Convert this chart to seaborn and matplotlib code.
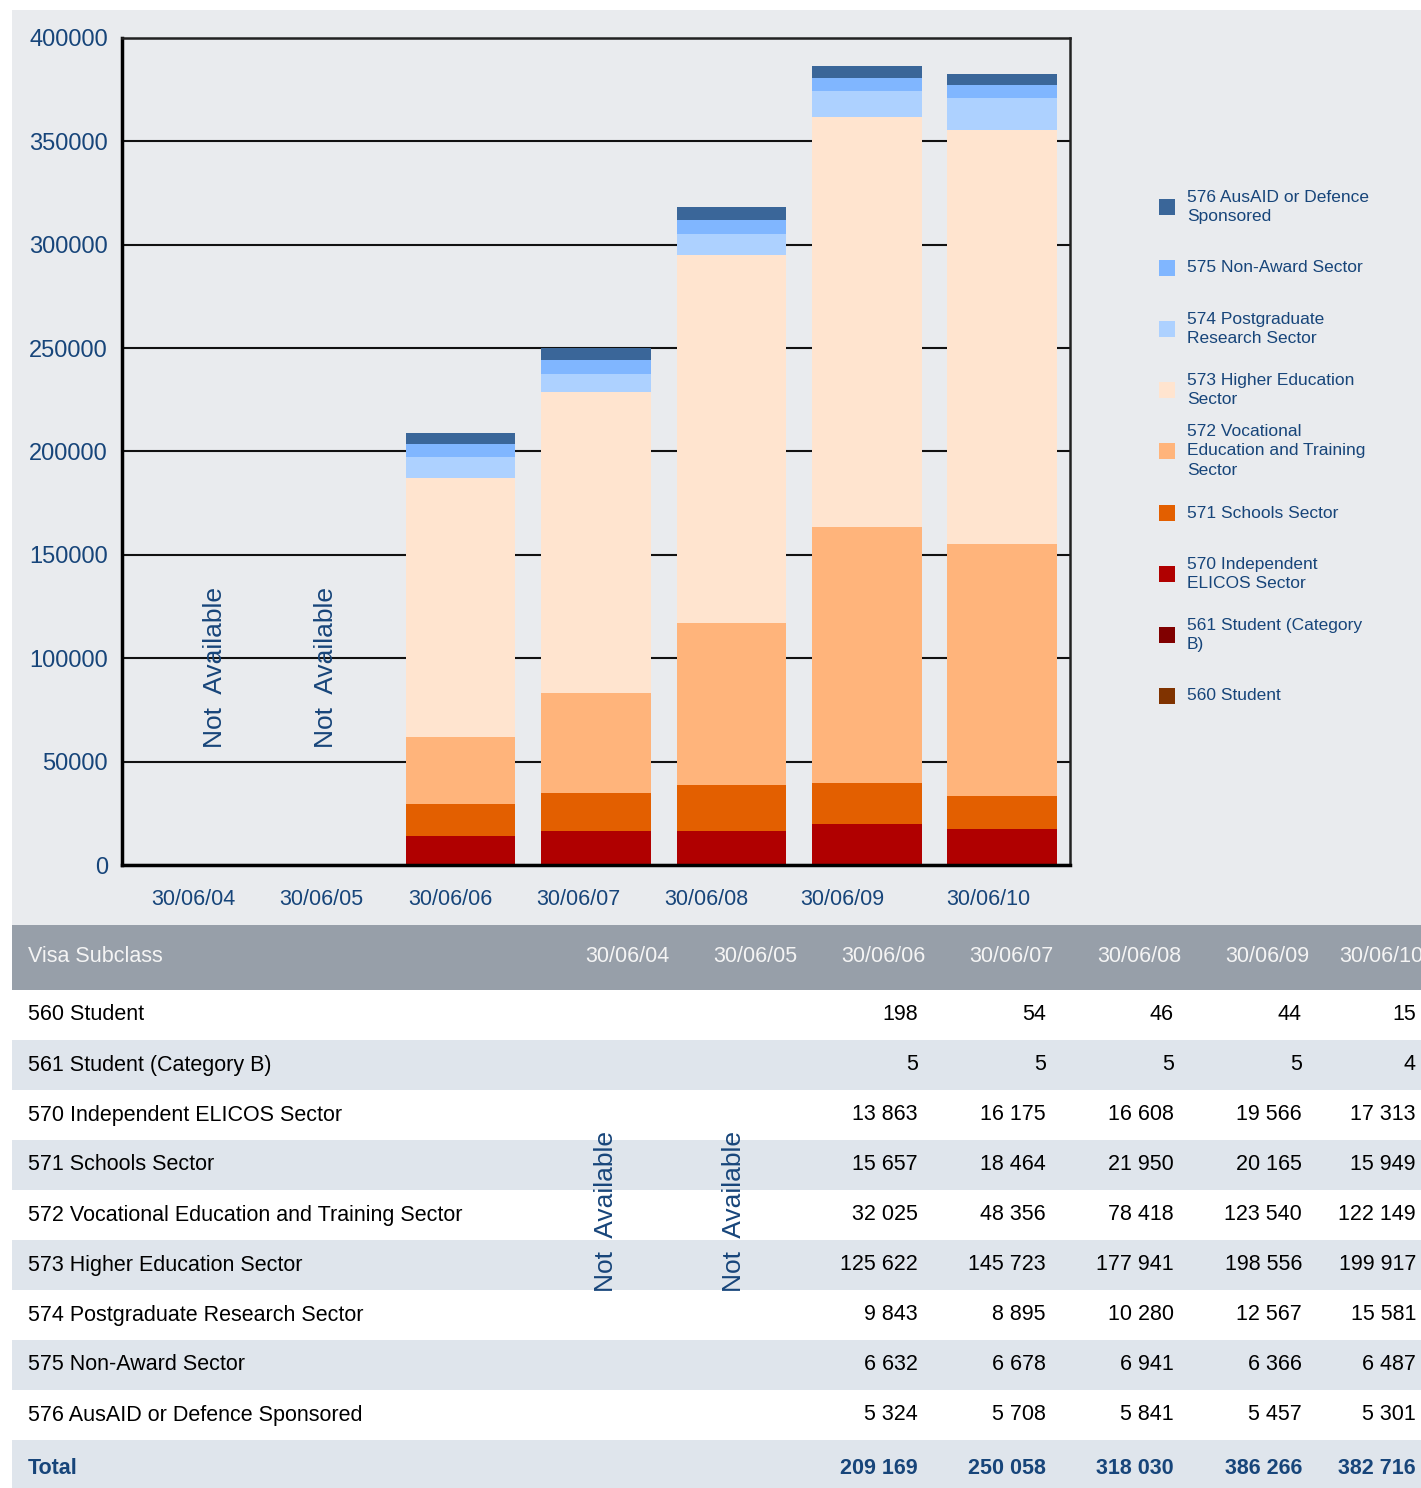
import numpy as np
import pandas as pd
import matplotlib
matplotlib.use("Agg")
import matplotlib.pyplot as plt
from matplotlib.patches import Rectangle
import seaborn as sns

sns.set_theme(style="white")
plt.rcParams['font.family'] = ['Liberation Sans', 'DejaVu Sans']

# ---------------- data ----------------
dates = ["30/06/04", "30/06/05", "30/06/06", "30/06/07", "30/06/08", "30/06/09", "30/06/10"]
subclasses = [
    "560 Student",
    "561 Student (Category B)",
    "570 Independent ELICOS Sector",
    "571 Schools Sector",
    "572 Vocational Education and Training Sector",
    "573 Higher Education Sector",
    "574 Postgraduate Research Sector",
    "575 Non-Award Sector",
    "576 AusAID or Defence Sponsored",
]
legend_labels = [
    "560 Student",
    "561 Student (Category\nB)",
    "570 Independent\nELICOS Sector",
    "571 Schools Sector",
    "572 Vocational\nEducation and Training\nSector",
    "573 Higher Education\nSector",
    "574 Postgraduate\nResearch Sector",
    "575 Non-Award Sector",
    "576 AusAID or Defence\nSponsored",
]
na = np.nan
v560 = [na, na, 198, 54, 46, 44, 15]
v561 = [na, na, 5, 5, 5, 5, 4]
v570 = [na, na, 13863, 16175, 16608, 19566, 17313]
v571 = [na, na, 15657, 18464, 21950, 20165, 15949]
v572 = [na, na, 32025, 48356, 78418, 123540, 122149]
v573 = [na, na, 125622, 145723, 177941, 198556, 199917]
v574 = [na, na, 9843, 8895, 10280, 12567, 15581]
v575 = [na, na, 6632, 6678, 6941, 6366, 6487]
v576 = [na, na, 5324, 5708, 5841, 5457, 5301]
totals = [na, na, 209169, 250058, 318030, 386266, 382716]
series = [v560, v561, v570, v571, v572, v573, v574, v575, v576]
colors = ["#803300", "#800000", "#B00000", "#E35F00", "#FFB47B",
          "#FFE4CF", "#ADD1FF", "#80B6FF", "#3A6699"]
yticks = [0, 50000, 100000, 150000, 200000, 250000, 300000, 350000, 400000]

# ---------------- figure ----------------
W, H = 1421, 1488
fig = plt.figure(figsize=(W / 100, H / 100), dpi=100)
fig.patch.set_facecolor("white")
BG = "#E9EBEE"
TXT = "#17457A"

def fx(px):
    return px / W

def fy(py):
    return 1 - py / H

fig.add_artist(Rectangle((fx(12), fy(925)), 1 - fx(12), fy(10) - fy(925),
                         transform=fig.transFigure, facecolor=BG, edgecolor="none", zorder=0))

ax = fig.add_axes([fx(122), fy(865), fx(1070) - fx(122), fy(38) - fy(865)])
ax.set_facecolor(BG)

arr = np.array(series, dtype=float)
cum = np.cumsum(arr, axis=0)
for i in range(len(series) - 1, -1, -1):
    df = pd.DataFrame({"date": dates, "value": cum[i]})
    sns.barplot(data=df, x="date", y="value", order=dates, color=colors[i],
                saturation=1, width=0.81, linewidth=0, ax=ax, zorder=3)

ax.set_xlim(-0.5, 6.5)
ax.set_ylim(0, 400000)
ax.set_yticks(yticks)
ax.set_yticklabels([str(t) for t in yticks])
ax.set_axisbelow(True)
ax.yaxis.grid(True, color="#111111", linewidth=1.5)
ax.xaxis.grid(False)
ax.set_xlabel("")
ax.set_ylabel("")
ax.tick_params(axis="y", length=0, pad=10, labelsize=17, labelcolor=TXT)
# tick label positions as in the reference (slightly offset from bars)
xlabel_pos = [0.024, 0.969, 1.922, 2.867, 3.812, 4.816, 5.894]
ax.set_xticks(xlabel_pos)
ax.set_xticklabels(dates)
ax.tick_params(axis="x", length=0, pad=17, labelsize=15.5, labelcolor=TXT)
for s in ["left", "bottom"]:
    ax.spines[s].set_linewidth(2.5)
    ax.spines[s].set_color("black")
for s in ["top", "right"]:
    ax.spines[s].set_linewidth(1.8)
    ax.spines[s].set_color("#222222")
for s in ax.spines.values():
    s.set_zorder(5)

for xpos in [0.185, 1.01]:
    ax.text(xpos, 95300, "Not  Available", rotation=90, ha="center", va="center",
            fontsize=19, color=TXT, zorder=6)

# ---------------- legend (manual, evenly spaced) ----------------
leg_y = [696, 635, 574, 513, 451, 390, 329, 268, 207]
for lab, col, yc in zip(legend_labels, colors, leg_y):
    fig.add_artist(Rectangle((fx(1159), fy(yc + 8)), fx(16), fy(yc - 8) - fy(yc + 8),
                             transform=fig.transFigure, facecolor=col, edgecolor="none"))
    fig.text(fx(1187), fy(yc), lab, ha="left", va="center", fontsize=12.5,
             color=TXT, linespacing=1.4)

# ---------------- table ----------------
tax = fig.add_axes([0, 0, 1, fy(925)])
tax.set_xlim(0, W)
tax.set_ylim(H, 925)
tax.axis("off")
tax.add_patch(Rectangle((12, 925), W - 12, 65, facecolor="#979FA9", edgecolor="none"))
tax.text(28, 956, "Visa Subclass", ha="left", va="center", fontsize=15.5, color="#F4F4F4")
head_left = [585, 713, 841, 969, 1097, 1225, 1339]
for d, hx in zip(dates, head_left):
    tax.text(hx, 956, d, ha="left", va="center", fontsize=15.5, color="#F4F4F4")

num_right = [None, None, 918, 1046, 1174, 1302, 1416]
LIGHT = "#DFE5EC"
row_top = 990
for i, name in enumerate(subclasses):
    y0 = row_top + 50 * i
    tax.add_patch(Rectangle((12, y0), W - 12, 50,
                            facecolor=(LIGHT if i % 2 else "white"), edgecolor="none"))
    tax.text(28, y0 + 25, name, ha="left", va="center", fontsize=15.5, color="black")
    for j in range(2, 7):
        v = series[i][j]
        tax.text(num_right[j], y0 + 25, f"{int(v):,}".replace(",", " "),
                 ha="right", va="center", fontsize=15.5, color="black")
y0 = row_top + 50 * 9
tax.add_patch(Rectangle((12, y0), W - 12, H - y0, facecolor=LIGHT, edgecolor="none"))
tax.text(28, y0 + 28, "Total", ha="left", va="center", fontsize=15.5,
         color="#17457A", fontweight="bold")
for j in range(2, 7):
    tax.text(num_right[j], y0 + 28, f"{int(totals[j]):,}".replace(",", " "),
             ha="right", va="center", fontsize=15.5, color="#17457A", fontweight="bold")
for xc in [606, 734]:
    tax.text(xc, 1212, "Not  Available", rotation=90, ha="center", va="center",
             fontsize=19, color=TXT)

fig.savefig("out.png", dpi=100, facecolor=fig.get_facecolor())
